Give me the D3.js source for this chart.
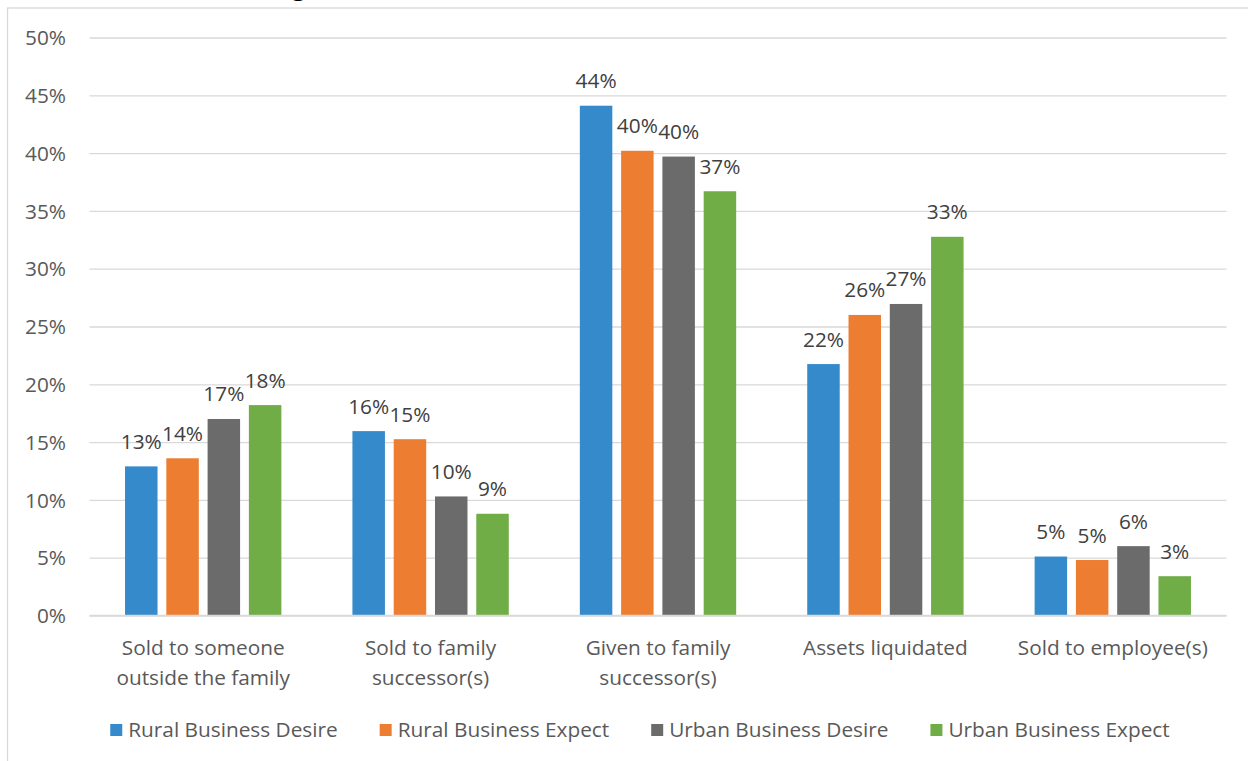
<!DOCTYPE html>
<html><head><meta charset="utf-8">
<script src="https://cdn.jsdelivr.net/npm/d3@7"></script>
<style>
html,body{margin:0;padding:0;background:#fff;}
svg{display:block;font-family:"Open Sans",sans-serif;}
</style></head>
<body><svg id="c" width="1248" height="761"></svg>
<script>
const categories = [
  ["Sold to someone", "outside the family"],
  ["Sold to family", "successor(s)"],
  ["Given to family", "successor(s)"],
  ["Assets liquidated"],
  ["Sold to employee(s)"]
];
const seriesNames = ["Rural Business Desire","Rural Business Expect","Urban Business Desire","Urban Business Expect"];
const seriesColors = ["#348ACB","#ED7D31","#6B6B6B","#70AD47"];
const ruralDesire = [0.129, 0.1595, 0.441, 0.2175, 0.051];
const ruralExpect = [0.136, 0.1525, 0.402, 0.260, 0.048];
const urbanDesire = [0.170, 0.103, 0.397, 0.2695, 0.060];
const urbanExpect = [0.182, 0.088, 0.367, 0.3276, 0.034];
const yTicks = [0,0.05,0.10,0.15,0.20,0.25,0.30,0.35,0.40,0.45,0.50];
const titleFragment = "g";

const FS = 20.8;
const series = [ruralDesire, ruralExpect, urbanDesire, urbanExpect];
const svg = d3.select("#c");

// frame
svg.append("rect").attr("x",7.5).attr("y",8).attr("width",1300).attr("height",800)
  .attr("fill","none").attr("stroke","#d9d9d9").attr("stroke-width",1.3);
svg.append("text").attr("x",292).attr("y",-5).attr("font-size",24).attr("font-weight","bold")
  .attr("fill","#000").text(titleFragment);

const x0 = d3.scaleBand().domain(d3.range(categories.length)).range([89.5,1226.5])
  .paddingInner(0.3125).paddingOuter(0.15625);
const x1 = d3.scaleBand().domain(d3.range(series.length)).range([0,x0.bandwidth()])
  .paddingInner(0.213).paddingOuter(0);
const y = d3.scaleLinear().domain([0,0.5]).range([615.5,37.5]);

// gridlines
const yAxis = d3.axisLeft(y).tickValues(yTicks).tickSize(-(1226.5-89.5)).tickFormat(d3.format(".0%")).tickPadding(23.5);
const gy = svg.append("g").attr("transform","translate(89.5,0)").call(yAxis);
gy.select(".domain").remove();
gy.selectAll(".tick line").attr("stroke","#d9d9d9").attr("stroke-width",1.3);
gy.selectAll(".tick text").attr("font-size",FS).attr("fill","#595959")
  .attr("font-family","'Open Sans',sans-serif").attr("dy","0.35em");

// bars
const groups = svg.append("g").selectAll("g").data(categories).join("g")
  .attr("transform",(d,i)=>`translate(${x0(i)},0)`);
groups.each(function(cat,ci){
  const g = d3.select(this);
  series.forEach((s,si)=>{
    g.append("rect").attr("x",x1(si)).attr("width",x1.bandwidth())
      .attr("y",y(s[ci])).attr("height",y(0)-y(s[ci]))
      .attr("fill",seriesColors[si]);
    g.append("text").attr("x",x1(si)+x1.bandwidth()/2).attr("y",y(s[ci])-17.5)
      .attr("text-anchor","middle").attr("font-size",FS).attr("fill","#404040")
      .text(d3.format(".0%")(s[ci]));
  });
});

// baseline axis
svg.append("line").attr("x1",89.5).attr("x2",1226.5).attr("y1",y(0)).attr("y2",y(0))
  .attr("stroke","#d9d9d9").attr("stroke-width",1.3);

// category labels
const xAxis = d3.axisBottom(x0).tickSize(0).tickFormat(()=>"");
const gx = svg.append("g").attr("transform",`translate(0,${y(0)})`).call(xAxis);
gx.select(".domain").remove();
gx.selectAll(".tick").each(function(d){
  const t = d3.select(this).append("text").attr("text-anchor","middle")
    .attr("font-size",FS).attr("fill","#595959").attr("font-family","'Open Sans',sans-serif");
  categories[d].forEach((line,li)=>{
    t.append("tspan").attr("x",0).attr("y",39+li*30).text(line);
  });
});

// legend
const leg = svg.append("g");
const items = leg.selectAll("g").data(seriesNames).join("g");
items.append("rect").attr("width",12).attr("height",12).attr("y",724)
  .attr("fill",(d,i)=>seriesColors[i]);
items.append("text").attr("x",18).attr("y",737).attr("font-size",FS).attr("fill","#595959").text(d=>d);
let widths = [];
items.each(function(){ widths.push(18 + d3.select(this).select("text").node().getComputedTextLength()); });
const gap = 42;
const total = d3.sum(widths) + gap*(widths.length-1);
let cx = 640 - total/2;
items.each(function(d,i){ d3.select(this).attr("transform",`translate(${cx},0)`); cx += widths[i]+gap; });
</script></body></html>
